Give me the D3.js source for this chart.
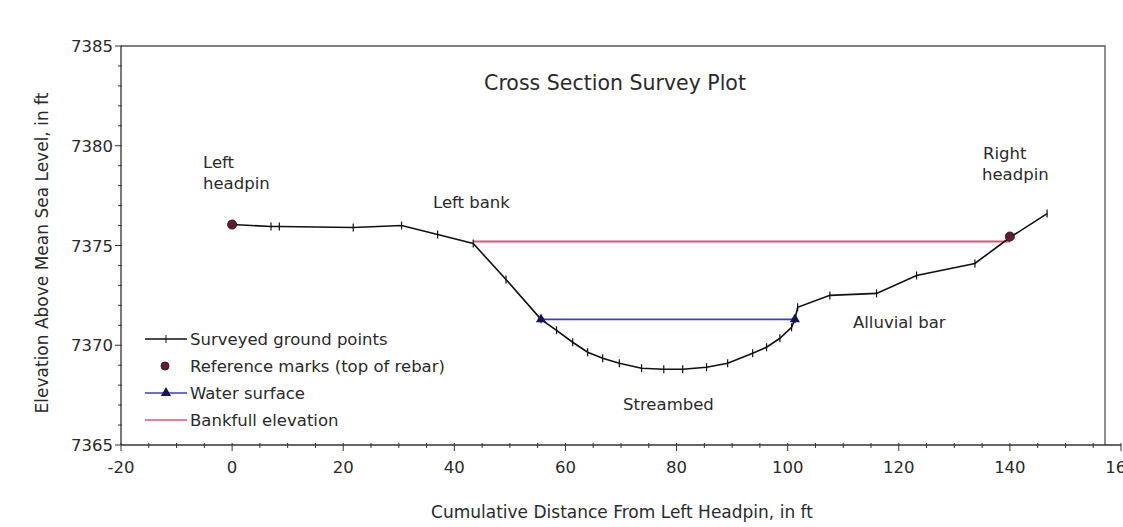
<html>
<head>
<script src="https://cdn.jsdelivr.net/npm/d3@7"></script>
<style>
  body { margin: 0; background: #fff; }
  text { font-family: "DejaVu Sans", "Liberation Sans", Arial, sans-serif; fill: #2a2a2a; }
</style>
</head>
<body>
<svg width="1123" height="527"></svg>
<script>

// surveyed ground points (distance, elevation)
var groundX = [0, 7, 8.5, 21.8, 30.5, 37, 43.4, 49.3, 55.6, 58.4, 61.3, 64, 66.7, 69.7, 73.7, 77.7, 81.1, 85.4, 89.2, 93.7, 96.2, 98.6, 100.7, 101.3, 101.8, 107.6, 116, 123.2, 133.7, 140, 146.7]
var groundY = [7376.05, 7375.95, 7375.95, 7375.9, 7376.0, 7375.55, 7375.1, 7373.3, 7371.3, 7370.75, 7370.15, 7369.65, 7369.35, 7369.1, 7368.85, 7368.8, 7368.8, 7368.9, 7369.1, 7369.6, 7369.9, 7370.35, 7370.9, 7371.3, 7371.9, 7372.5, 7372.6, 7373.5, 7374.1, 7375.4, 7376.6]

// reference marks
var refX = [0, 140]
var refY = [7376.05, 7375.45]

// water surface
var waterX = [55.6, 101.3]
var waterY = [7371.3, 7371.3]

// bankfull elevation
var bankX = [43.4, 140]
var bankY = [7375.2, 7375.2]

var xTicks = [-20, 0, 20, 40, 60, 80, 100, 120, 140, 160]
var yTicks = [7365, 7370, 7375, 7380, 7385]

var legendNames = ['Surveyed ground points', 'Reference marks (top of rebar)', 'Water surface', 'Bankfull elevation']

var svg = d3.select('svg')

var x = d3.scaleLinear().domain([-20, 160]).range([121, 1121])
var y = d3.scaleLinear().domain([7365, 7385]).range([445, 46])

function pts(xs, ys){
    return xs.map(function(d, i){ return [d, ys[i]] })
}

// frame: top and right edges
svg.append('path')
    .attr('d', 'M' + x(-20) + ',' + y(7385) + 'H1105V' + y(7365))
    .attr('fill', 'none')
    .attr('stroke', '#555')
    .attr('stroke-width', 1.3)

// x axis, minor ticks every 5
var xAxis = svg.append('g').attr('transform', 'translate(0,' + y(7365) + ')')
xAxis.append('line')
    .attr('x1', x(-20)).attr('x2', x(160))
    .attr('stroke', '#333').attr('stroke-width', 1.3)
xAxis.selectAll('.minor')
    .data(d3.range(-15, 160, 5).filter(function(d){ return d % 20 != 0 }))
    .enter().append('line')
    .attr('x1', function(d){ return x(d) }).attr('x2', function(d){ return x(d) })
    .attr('y1', -2).attr('y2', 3)
    .attr('stroke', '#333')
xAxis.selectAll('.major')
    .data(xTicks)
    .enter().append('line')
    .attr('x1', function(d){ return x(d) }).attr('x2', function(d){ return x(d) })
    .attr('y1', -2).attr('y2', 6)
    .attr('stroke', '#333')
xAxis.selectAll('text')
    .data(xTicks)
    .enter().append('text')
    .attr('x', function(d){ return x(d) })
    .attr('y', 28)
    .attr('text-anchor', 'middle')
    .style('font-size', '16.5px')
    .text(function(d){ return d })

// y axis, minor ticks every 1
var yAxis = svg.append('g').attr('transform', 'translate(' + x(-20) + ',0)')
yAxis.append('line')
    .attr('y1', y(7365)).attr('y2', y(7385))
    .attr('stroke', '#333').attr('stroke-width', 1.3)
yAxis.selectAll('.minor')
    .data(d3.range(7366, 7385).filter(function(d){ return d % 5 != 0 }))
    .enter().append('line')
    .attr('y1', function(d){ return y(d) }).attr('y2', function(d){ return y(d) })
    .attr('x1', -3).attr('x2', 1)
    .attr('stroke', '#333')
yAxis.selectAll('.major')
    .data(yTicks)
    .enter().append('line')
    .attr('y1', function(d){ return y(d) }).attr('y2', function(d){ return y(d) })
    .attr('x1', -6).attr('x2', 1)
    .attr('stroke', '#333')
yAxis.selectAll('text')
    .data(yTicks)
    .enter().append('text')
    .attr('x', -8)
    .attr('y', function(d){ return y(d) + 6 })
    .attr('text-anchor', 'end')
    .style('font-size', '16.5px')
    .text(function(d){ return d })

// axis titles
svg.append('text')
    .attr('x', 622).attr('y', 518)
    .attr('text-anchor', 'middle')
    .style('font-size', '17px')
    .text('Cumulative Distance From Left Headpin, in ft')
svg.append('text')
    .attr('transform', 'translate(48,253) rotate(-90)')
    .attr('text-anchor', 'middle')
    .style('font-size', '17px')
    .text('Elevation Above Mean Sea Level, in ft')

var line = d3.line()
    .x(function(d){ return x(d[0]) })
    .y(function(d){ return y(d[1]) })

// bankfull
svg.append('path')
    .attr('d', line(pts(bankX, bankY)))
    .attr('stroke', '#e0507a').attr('stroke-width', 1.8).attr('fill', 'none')

// water surface
svg.append('path')
    .attr('d', line(pts(waterX, waterY)))
    .attr('stroke', '#3a3ad0').attr('stroke-width', 1.8).attr('fill', 'none')

// ground
svg.append('path')
    .attr('d', line(pts(groundX, groundY)))
    .attr('stroke', '#111').attr('stroke-width', 1.6).attr('fill', 'none')
svg.selectAll('.gtick')
    .data(pts(groundX, groundY))
    .enter().append('line')
    .attr('x1', function(d){ return x(d[0]) }).attr('x2', function(d){ return x(d[0]) })
    .attr('y1', function(d){ return y(d[1]) - 4 }).attr('y2', function(d){ return y(d[1]) + 4 })
    .attr('stroke', '#111').attr('stroke-width', 1.2)

var tri = d3.symbol().type(d3.symbolTriangle).size(45)
svg.selectAll('.wtri')
    .data(pts(waterX, waterY))
    .enter().append('path')
    .attr('d', tri)
    .attr('transform', function(d){ return 'translate(' + x(d[0]) + ',' + y(d[1]) + ')' })
    .attr('fill', '#14145a')

svg.selectAll('.ref')
    .data(pts(refX, refY))
    .enter().append('circle')
    .attr('cx', function(d){ return x(d[0]) })
    .attr('cy', function(d){ return y(d[1]) })
    .attr('r', 4.5)
    .attr('fill', '#6a1830')
    .attr('stroke', '#222')
    .attr('stroke-width', 1)

// title + annotations
svg.append('text')
    .attr('x', 615).attr('y', 90)
    .attr('text-anchor', 'middle')
    .style('font-size', '20.5px')
    .text('Cross Section Survey Plot')

var notes = [
    {t: 'Left', x: 203, y: 168},
    {t: 'headpin', x: 203, y: 189},
    {t: 'Left bank', x: 433, y: 208},
    {t: 'Right', x: 983, y: 159},
    {t: 'headpin', x: 982, y: 180},
    {t: 'Alluvial bar', x: 853, y: 328},
    {t: 'Streambed', x: 623, y: 410}
]
svg.selectAll('.note')
    .data(notes)
    .enter().append('text')
    .attr('x', function(d){ return d.x })
    .attr('y', function(d){ return d.y })
    .style('font-size', '16.5px')
    .text(function(d){ return d.t })

// legend
var lg = svg.selectAll('.lg')
    .data(legendNames)
    .enter().append('g')
    .attr('transform', function(d, i){ return 'translate(145,' + (339 + i * 27) + ')' })

lg.append('text')
    .attr('x', 45).attr('y', 6)
    .style('font-size', '16.5px')
    .text(function(d){ return d })

lg.filter(function(d, i){ return i != 1 })
    .append('line')
    .attr('x1', 0).attr('x2', 42)
    .attr('stroke', function(d, i){ return ['#111', '#3a3ad0', '#e0507a'][i] })
    .attr('stroke-width', 1.6)

lg.filter(function(d, i){ return i == 0 })
    .append('line')
    .attr('x1', 21).attr('x2', 21).attr('y1', -4).attr('y2', 4)
    .attr('stroke', '#111')
lg.filter(function(d, i){ return i == 1 })
    .append('circle')
    .attr('cx', 20).attr('r', 4)
    .attr('fill', '#6a1830').attr('stroke', '#222')
lg.filter(function(d, i){ return i == 2 })
    .append('path')
    .attr('d', tri)
    .attr('transform', 'translate(21,0)')
    .attr('fill', '#14145a')

</script>
</body>
</html>
